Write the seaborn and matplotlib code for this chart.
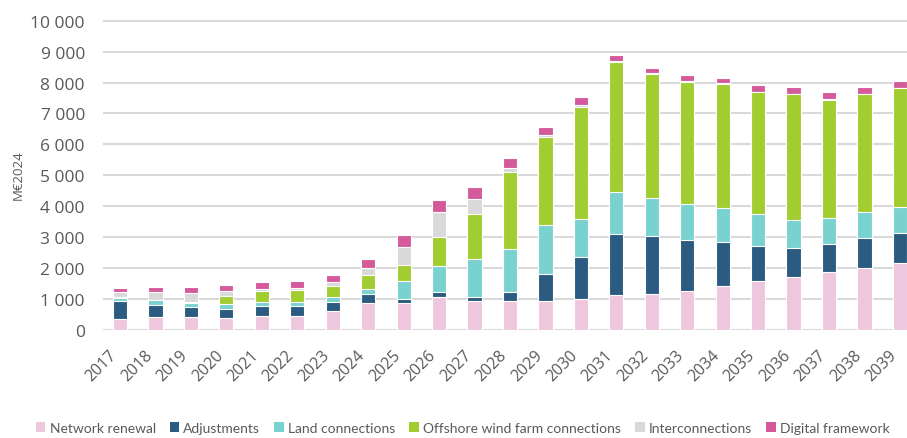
import numpy as np
import pandas as pd
import matplotlib
matplotlib.use("Agg")
import matplotlib.pyplot as plt
import seaborn as sns
from matplotlib.patches import Patch
from matplotlib.ticker import FuncFormatter

# Data (M€2024)
years = [str(y) for y in range(2017, 2040)]
network_renewal = [355, 410, 430, 390, 450, 465, 625, 860, 870, 1080, 925, 950, 925,
                   1000, 1140, 1165, 1250, 1430, 1585, 1725, 1875, 1995, 2155]
adjustments = [593, 410, 300, 290, 335, 300, 290, 290, 130, 140, 150, 280, 885,
               1350, 1950, 1875, 1660, 1420, 1140, 940, 895, 990, 970]
land_connections = [97, 140, 130, 160, 110, 130, 160, 170, 570, 850, 1230, 1380, 1575,
                    1240, 1380, 1220, 1175, 1090, 1015, 905, 850, 840, 840]
offshore = [30, 20, 30, 250, 355, 410, 355, 455, 530, 930, 1445, 2510, 2855,
            3630, 4190, 4010, 3935, 4010, 3945, 4050, 3825, 3795, 3845]
interconnections = [143, 237, 300, 160, 75, 55, 130, 235, 580, 810, 485, 120, 55,
                    55, 35, 25, 25, 25, 25, 25, 25, 25, 25]
digital = [151, 183, 205, 215, 215, 215, 225, 300, 390, 390, 375, 335, 280,
           270, 205, 180, 190, 180, 210, 210, 210, 210, 205]

series = ["Network renewal", "Adjustments", "Land connections",
          "Offshore wind farm connections", "Interconnections", "Digital framework"]
colors = ["#EEC6DE", "#2B5B80", "#79D2CF", "#A2CD31", "#D9D9D9", "#D55A9B"]

df = pd.DataFrame({"year": years,
                   series[0]: network_renewal, series[1]: adjustments,
                   series[2]: land_connections, series[3]: offshore,
                   series[4]: interconnections, series[5]: digital})

sns.set_style("white")
plt.rcParams["font.family"] = ["Open Sans", "DejaVu Sans"]

fig = plt.figure(figsize=(9.07, 4.39), dpi=100)
ax = fig.add_axes([0.1136, 0.246, 0.8864, 0.7116])

# stacked bars: draw cumulative totals, tallest first
cum = df[series].cumsum(axis=1)
for name, col in reversed(list(zip(series, colors))):
    sns.barplot(x=df["year"], y=cum[name], color=col, width=0.4,
                edgecolor="white", linewidth=0.8, saturation=1, ax=ax, zorder=3)

ax.set_ylim(0, 10100)
ax.set_xlim(-0.48, 22.2)
ax.set_yticks(range(0, 10001, 1000))
ax.yaxis.set_major_formatter(FuncFormatter(lambda v, p: f"{int(v):,}".replace(",", " ")))
ax.grid(axis="y", color="#D9D9D9", linewidth=1.5, zorder=0)
ax.set_axisbelow(True)
sns.despine(ax=ax, left=True, bottom=True, top=True, right=True)
ax.tick_params(axis="both", length=0, colors="#595959")
ax.tick_params(axis="y", labelsize=12.5, pad=13)
ax.tick_params(axis="x", labelsize=11.5, pad=12)
plt.setp(ax.get_xticklabels(), rotation=45, ha="right", va="top")
ax.set_xlabel("")
ax.set_ylabel("M€2024", color="#595959", fontsize=9.5, labelpad=4)

handles = [Patch(facecolor=c, edgecolor="none") for c in colors]
fig.legend(handles, series, loc="lower center", bbox_to_anchor=(0.51, -0.012),
           ncol=6, frameon=False, handlelength=0.7, handleheight=0.7,
           handletextpad=0.3, columnspacing=1.0, borderaxespad=0.3,
           prop={"family": "Lato", "size": 10}, labelcolor="#595959")

fig.savefig("out.png", dpi=100)
